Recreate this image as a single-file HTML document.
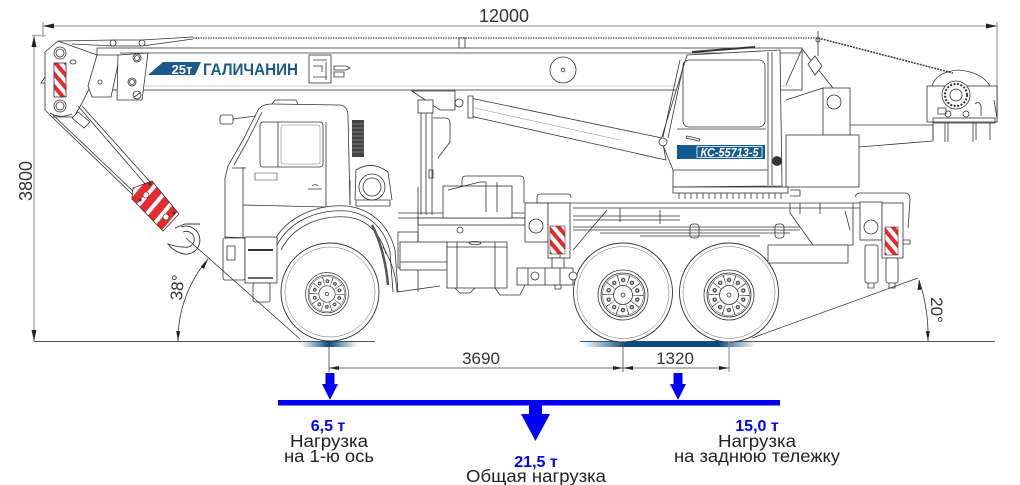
<!DOCTYPE html>
<html><head><meta charset="utf-8"><style>
html,body{margin:0;padding:0;background:#fff;width:1020px;height:485px;overflow:hidden}
svg{display:block}
</style></head><body>
<svg width="1020" height="485" viewBox="0 0 1020 485" xmlns="http://www.w3.org/2000/svg" font-family="'Liberation Sans', 'DejaVu Sans', sans-serif">
<defs>
<pattern id="st" patternUnits="userSpaceOnUse" width="8" height="8" patternTransform="rotate(-40)">
<rect width="8" height="8" fill="#fff"/><rect width="4" height="8" fill="#e52a30"/></pattern>
<pattern id="st2" patternUnits="userSpaceOnUse" width="12" height="12" patternTransform="rotate(40)">
<rect width="12" height="12" fill="#fff"/><rect width="8" height="12" fill="#e52a30"/></pattern>
<linearGradient id="gf" x1="0" x2="1" y1="0" y2="0">
<stop offset="0" stop-color="#1f5f8f" stop-opacity="0"/>
<stop offset="0.5" stop-color="#0d4a7a"/>
<stop offset="1" stop-color="#1f5f8f" stop-opacity="0"/></linearGradient>
<linearGradient id="gr" x1="0" x2="1" y1="0" y2="0">
<stop offset="0" stop-color="#1f5f8f" stop-opacity="0"/>
<stop offset="0.25" stop-color="#0d4a7a"/>
<stop offset="0.78" stop-color="#0d4a7a"/>
<stop offset="1" stop-color="#1f5f8f" stop-opacity="0"/></linearGradient>
<g id="rim" fill="none" stroke="#333" stroke-width="0.8">
<circle r="25" fill="#fff"/><circle r="22"/><circle r="20.5" stroke-width="0.5"/>
<circle r="15" stroke="#444" stroke-width="11" stroke-dasharray="0.7 8.72"/>
<circle r="9.5" fill="#fff"/>
<circle r="15" stroke="#555" stroke-width="4.5" stroke-dasharray="0 9.42" stroke-linecap="round" transform="rotate(18)"/>
<circle r="15" stroke="#fff" stroke-width="1.6" stroke-dasharray="0 9.42" stroke-linecap="round" transform="rotate(18)"/>
<circle r="2"/>
</g>
</defs>

<!-- ===== overall dimensions ===== -->
<g stroke="#b3b3b3" stroke-width="1.6" fill="none">
<line x1="43" y1="26" x2="997" y2="26"/>
<line x1="43" y1="22" x2="43" y2="37"/>
<line x1="997" y1="22" x2="997" y2="118"/>
<line x1="34" y1="36" x2="34" y2="341"/>
<line x1="32" y1="35.5" x2="46" y2="35.5"/>
</g>
<g fill="#222">
<polygon points="43,26 54,23.5 54,28.5"/>
<polygon points="997,26 986,23.5 986,28.5"/>
<polygon points="34,36 31.5,47 36.5,47"/>
<polygon points="34,341 31.5,330 36.5,330"/>
</g>
<text x="504" y="22" font-size="18" fill="#333" text-anchor="middle">12000</text>
<text transform="translate(32,181) rotate(-90)" font-size="18" fill="#333" text-anchor="middle">3800</text>

<!-- ground -->
<g stroke="#555" stroke-width="0.9">
<line x1="34" y1="341.5" x2="375" y2="341.5"/>
<line x1="580" y1="341.5" x2="995" y2="341.5"/>
</g>
<rect x="300" y="341" width="58" height="6" fill="url(#gf)"/>
<rect x="582" y="341" width="175" height="6" fill="url(#gr)"/>

<!-- ===== BOOM ===== -->
<g stroke="#333" stroke-width="0.8" fill="none">
<line x1="193" y1="38" x2="818" y2="38" stroke="#666" stroke-width="1.4" stroke-dasharray="1.5 1"/>
<line x1="818" y1="38" x2="953" y2="73" stroke="#444" stroke-width="1.6" stroke-dasharray="2 1"/>
<path d="M58,41 L113,40 L142,40 L193,37"/>
<path d="M72,44 L113,46 L142,46 L193,39"/>
<rect x="97" y="48" width="705" height="42" fill="#fff"/>
<line x1="120" y1="53" x2="800" y2="53"/>
<line x1="120" y1="86" x2="790" y2="86" stroke="#999" stroke-width="0.5"/>
<circle cx="113" cy="43" r="3" fill="#fff"/><circle cx="142" cy="43" r="3" fill="#fff"/>
<rect x="459" y="38" width="6" height="10" fill="#fff"/>
<!-- head -->
<path d="M45,52 L58,41 L97,55 L90,87 L82,103 L74,117 L52,117 L45,110 Z" fill="#fff"/>
<rect x="54" y="63" width="12" height="34" fill="url(#st)" stroke="#333"/>
<circle cx="60" cy="53" r="6" fill="#fff"/><circle cx="60" cy="53" r="4"/>
<circle cx="60" cy="106" r="6" fill="#fff"/><circle cx="60" cy="106" r="4"/>
<path d="M45,77 L41,83 L45,83"/>
<path d="M50,113 Q60,119 72,114"/>
<ellipse cx="73" cy="62" rx="3" ry="2"/>
<!-- plates -->
<path d="M97,55 L120,55 L111,97 L92,97 L88,86 Z" fill="#fff"/>
<path d="M118,55 L148,53 L142,100 L117,100 Z" fill="#fff"/>
<circle cx="100" cy="82" r="2"/>
<circle cx="137" cy="58" r="4"/><circle cx="137" cy="58" r="2.5"/>
<circle cx="132" cy="82" r="4"/><circle cx="132" cy="82" r="2.5"/>
<circle cx="137" cy="95" r="4"/><line x1="134" y1="97" x2="140" y2="93"/>
<!-- panel -->
<rect x="309" y="55" width="22" height="28" fill="#fff"/>
<path d="M313,60 H327 M313,66 H322 V72 M326,62 V80 M313,77 H327"/>
<path d="M334,66 H346 L350,68 L346,70 H334 Z M334,72 H344 V77 H334 Z"/>
<circle cx="563" cy="70" r="13"/><circle cx="563" cy="70" r="1.8"/>
</g>
<!-- logo -->
<polygon points="163,62 201,62 195,75 148,75" fill="#1a5a8c"/>
<text x="182" y="74" font-size="13" font-weight="bold" fill="#fff" text-anchor="middle">25т</text>
<text x="203" y="75" font-size="17" font-weight="bold" fill="#1a5a8c" textLength="95" lengthAdjust="spacingAndGlyphs">ГАЛИЧАНИН</text>

<!-- cables and hook -->
<g stroke="#333" stroke-width="0.8" fill="none">
<path d="M50,115 L133,195 M53,115 L135,193"/>
<path d="M78,106 L147,186 M82,106 L152,184"/>
<path d="M72,118 L78,112 L90,122 L84,128 Z" fill="#fff"/>
</g>
<polygon points="132,199 133,188 152,181 179,214 163,231" fill="url(#st2)" stroke="#333" stroke-width="0.8"/>
<g fill="#fff" stroke="#333" stroke-width="0.6">
<circle cx="146" cy="195" r="3"/><circle cx="166" cy="217" r="3"/>
<circle cx="150" cy="184" r="1.2" fill="#333"/><circle cx="174" cy="213" r="1.2" fill="#333"/><circle cx="140" cy="200" r="1.2" fill="#333"/>
</g>
<g stroke="#333" stroke-width="0.9" fill="none">
<path d="M181,227 A14,14 0 1 1 184,254 Q174,252 168,244 Q177,247 184,247 A8,8 0 1 0 183,232"/>
<path d="M175,228 L185,224 L200,224"/>
</g>

<!-- ===== under-boom: column & cylinder ===== -->
<g stroke="#333" stroke-width="0.8" fill="none">
<path d="M412,91 L455,91 L455,110 L440,110 Z" fill="#fff"/>
<rect x="418" y="100" width="15" height="13" fill="#fff"/>
<circle cx="459" cy="103" r="4" fill="#fff"/>
<path d="M421,113 V215 M426,113 V215 M432,113 V215"/>
<path d="M433,118 H446 Q450,118 450,124 V142 L438,158"/>
<rect x="429" y="170" width="4" height="8"/>
<polygon points="470,98 662,138 666,160 470,116" fill="#fff"/>
<line x1="470" y1="107" x2="620" y2="140" stroke="#888" stroke-width="0.5"/>
<path d="M468,96 L473,96 L473,118 L468,118 Z" fill="#fff"/>
</g>

<!-- ===== operator cab ===== -->
<g stroke="#333" stroke-width="0.8" fill="none">
<path d="M687,55 L780,50 L782,186 L673,187 L673,170 L661,140 Z" fill="#fff"/>
<path d="M680,60 L663,137 M684,62 L668,138"/>
<rect x="683" y="60" width="82" height="67" rx="6"/>
<line x1="677" y1="129" x2="766" y2="129"/>
<line x1="768" y1="52" x2="768" y2="185"/>
<line x1="772" y1="52" x2="772" y2="185"/>
<line x1="692" y1="52" x2="755" y2="47" stroke-width="2"/>
<line x1="673" y1="170" x2="768" y2="170"/>
<path d="M687,136 L700,139 L699,141 L686,138 Z"/>
<circle cx="663" cy="142" r="4" fill="#fff"/>
<circle cx="777" cy="161" r="4.5" fill="#333"/>
<rect x="673" y="187" width="115" height="6" fill="#fff"/>
<path d="M679,193v6M685,193v6M691,193v6M697,193v6M703,193v6M709,193v6M715,193v6M721,193v6M727,193v6M733,193v6M739,193v6M745,193v6M751,193v6M757,193v6M763,193v6M769,193v6M775,193v6M781,193v6"/>
</g>
<rect x="677" y="145" width="88" height="14" fill="#125b8e"/>
<rect x="697" y="146.5" width="65" height="11" fill="none" stroke="#fff" stroke-width="0.8"/>
<text x="729.5" y="156.5" font-size="12" font-weight="bold" font-style="italic" fill="#fff" text-anchor="middle" textLength="58" lengthAdjust="spacingAndGlyphs">КС-55713-5</text>

<!-- ===== turret / rear structure ===== -->
<g stroke="#333" stroke-width="0.8" fill="none">
<path d="M786,85 L802,49 L833,88"/>
<path d="M786,100 L823,88"/>
<rect x="823" y="88" width="27" height="47" fill="#fff"/>
<circle cx="834" cy="102" r="7"/>
<rect x="786" y="135" width="73" height="52" fill="#fff"/>
<path d="M850,125 H933 M859,147 L933,141 M933,125 V141"/>
<path d="M808,64 L815,56 L822,66 L815,75 Z" fill="#fff"/>
<line x1="818" y1="31" x2="818" y2="56"/>
<circle cx="818" cy="40" r="2"/>
<path d="M790,190 H800 V196 H790"/>
<!-- winch -->
<path d="M932,86 Q936,72 958,70 Q982,72 990,86"/>
<rect x="927" y="86" width="70" height="36" fill="#fff"/>
<circle cx="956" cy="95" r="14" fill="#fff"/>
<circle cx="956" cy="95" r="11" stroke-dasharray="2 1.5" stroke-width="2"/>
<circle cx="956" cy="95" r="6"/>
<rect x="933" y="118" width="62" height="5"/>
<path d="M933,123 V140 M945,123 V142 M948,123 V142 M973,123 V142 M976,123 V140 M990,123 V140"/>
<circle cx="948" cy="114" r="3"/><circle cx="966" cy="114" r="3"/>
<path d="M938,108 h8 v6 h-8 Z M975,104 q4,-4 6,2 v10"/>
<line x1="994" y1="100" x2="997" y2="118"/>
</g>

<!-- ===== KAMAZ cab ===== -->
<g stroke="#333" stroke-width="0.8" fill="none">
<rect x="220" y="115" width="13" height="9" rx="2" fill="#fff"/>
<path d="M233,119 L256,116"/>
<path d="M258,110 Q262,104 272,104 L340,105 Q348,106 348,116 L350,205"/>
<path d="M272,104 L275,100 L296,100 L298,104"/>
<path d="M258,110 L244,138 L228,166 L225,178 L225,238"/>
<path d="M262,112 L248,140 L234,165"/>
<path d="M243,167 V237"/>
<path d="M232,168 L246,168"/>
<rect x="260" y="122" width="63" height="45" rx="3"/>
<line x1="278" y1="122" x2="278" y2="167"/>
<rect x="281" y="125" width="39" height="39" rx="2" stroke="#777" stroke-width="0.5"/>
<path d="M326,122 V207 M243,205 L326,207"/>
<path d="M255,173 H277 V180 H255 Z" stroke-width="0.6"/>
<path d="M308,189 H322 M312,186 A4,4 0 0 1 318,186"/>
<path d="M225,237 L278,239"/>
<path d="M272,245 C285,216 318,204 347,206 C372,209 389,226 395,250 L398,292"/>
<path d="M276,247 C289,220 319,209 347,211 C370,214 385,229 390,252 L393,292"/>
<path d="M281,250 C293,226 320,215 347,217 C366,219 380,232 386,254"/>
<path d="M350,180 V205 M356,200 H390 V206 H356 Z"/>
<rect x="223" y="238" width="22" height="42" rx="2" fill="#fff"/>
<rect x="227" y="246" width="8" height="14"/>
<rect x="245" y="237" width="32" height="46" fill="#fff"/>
<line x1="248" y1="250" x2="273" y2="250" stroke-width="2"/>
<line x1="248" y1="278" x2="273" y2="278" stroke-width="1.5"/>
<rect x="253" y="283" width="17" height="19" rx="2" fill="#fff"/>
<!-- filter -->
<path d="M355,200 L356,170 Q372,160 388,172 L392,200"/>
<circle cx="372" cy="187" r="13" fill="#fff"/>
<circle cx="372" cy="187" r="9"/>
</g>
<rect x="352" y="120" width="12" height="37" fill="#444"/>
<g stroke="#aaa" stroke-width="0.6">
<path d="M352,124H364M352,128H364M352,132H364M352,136H364M352,140H364M352,144H364M352,148H364M352,152H364"/>
</g>

<!-- ===== wheels ===== -->
<g stroke="#333" stroke-width="0.9" fill="#fff">
<circle cx="330" cy="292" r="49"/>
<circle cx="623" cy="292.5" r="49.5"/>
<circle cx="729" cy="292.5" r="49.5"/>
</g>
<g stroke="#666" stroke-width="0.5" fill="none">
<circle cx="330" cy="292" r="45"/>
<circle cx="623" cy="292.5" r="46"/>
<circle cx="729" cy="292.5" r="46"/>
</g>
<use href="#rim" transform="translate(327,294) scale(0.86)"/>
<use href="#rim" transform="translate(623,295)"/>
<use href="#rim" transform="translate(729,295)"/>

<!-- ===== chassis middle ===== -->
<g stroke="#333" stroke-width="0.8" fill="none">
<path d="M383,247 C392,262 396,275 397,292 L440,286"/>
<rect x="398" y="232" width="20" height="36" fill="#fff"/>
<path d="M372,225 C380,240 386,262 388,285" stroke-width="2.5" stroke="#555"/>
<path d="M398,213 H525 M398,218 H525"/>
<rect x="418" y="218" width="107" height="7" fill="#fff"/>
<line x1="418" y1="187" x2="418" y2="292"/>
<rect x="443" y="186" width="69" height="32" fill="#fff"/>
<path d="M462,186 V180 Q462,176 466,176 H520 Q524,176 524,180 V203"/>
<path d="M448,190 L480,182 H486 V212 M497,182 V212"/>
<rect x="400" y="242" width="47" height="28" fill="#fff"/>
<rect x="447" y="242" width="60" height="46" fill="#fff"/>
<line x1="457" y1="242" x2="457" y2="288"/>
<line x1="495" y1="242" x2="495" y2="288"/>
<ellipse cx="475" cy="243" rx="6" ry="1.5"/>
<circle cx="460" cy="230" r="3"/>
<path d="M447,247 H507 M400,262 H447"/>
<path d="M455,288 L460,293 H470 L475,288 M495,288 L500,295 H520 L525,285"/>
<!-- rear deck -->
<path d="M525,203 H860 M573,208 H860"/>
<path d="M537,203 V197 Q537,194 541,194 H568 Q571,194 571,198"/>
<rect x="525" y="203" width="23" height="39" fill="#fff"/>
<circle cx="536" cy="226" r="7"/>
<rect x="548" y="203" width="22" height="55" fill="#fff"/>
<rect x="552" y="258" width="12" height="26" fill="#fff"/>
<path d="M555,284 v5 h6 v-5"/>
<rect x="517" y="268" width="56" height="17" fill="#fff"/>
<path d="M528,268 V285 M545,268 V285 M560,268 V285"/>
<circle cx="535" cy="276" r="4"/><circle cx="573" cy="276" r="4" fill="#fff"/>
<path d="M573,216 H680 M573,220 H680 M573,227 H800 M573,230 H800 M600,233 H790 M640,236 H760"/>
<path d="M607,210 L573,250 M620,208 V222 M660,210 V224"/>
<rect x="690" y="224" width="9" height="14" rx="3"/>
<rect x="775" y="224" width="9" height="14" rx="3"/>
<path d="M790,203 V213 L813,245 H853 V203"/>
<rect x="768" y="245" width="80" height="18" fill="#fff"/>
<path d="M855,197 Q856,193 860,193 H905 Q910,193 910,200 L908,228"/>
<rect x="860" y="202" width="22" height="38" fill="#fff"/>
<circle cx="871" cy="227" r="7"/>
<rect x="882" y="203" width="21" height="55" fill="#fff"/>
<rect x="865" y="245" width="13" height="38" rx="2" fill="#fff"/>
<rect x="886" y="258" width="12" height="25" rx="2" fill="#fff"/>
<path d="M868,283 v5 h6 v-5 M889,283 v5 h6 v-5"/>
<path d="M903,240 H910 V244 H903"/>
<path d="M800,203 V214 M820,203 V214 M845,211 L850,230 M560,240 V258"/>
</g>
<rect x="550" y="226" width="15" height="28" fill="url(#st)" stroke="#333" stroke-width="0.6"/>
<rect x="885" y="227" width="13" height="28" fill="url(#st)" stroke="#333" stroke-width="0.6"/>

<!-- ===== angle annotations ===== -->
<g stroke="#333" stroke-width="0.8" fill="none">
<line x1="186" y1="238" x2="300" y2="339"/>
<path d="M178,341 A125,125 0 0 1 208,259"/>
<line x1="752" y1="338" x2="918" y2="278"/>
<path d="M928,341 A176,176 0 0 0 919,280"/>
</g>
<g fill="#222">
<polygon points="178,341 176.2,331 180.2,331.3"/>
<polygon points="208,259 200.6,266.8 204,268.8"/>
<polygon points="928,341 925.8,331.2 929.8,331"/>
<polygon points="919,280 917.5,290 921.5,289.5"/>
</g>
<text transform="translate(183,288) rotate(-85)" font-size="17" fill="#333" text-anchor="middle">38°</text>
<text transform="translate(931,310) rotate(90)" font-size="17" fill="#333" text-anchor="middle">20°</text>

<!-- ===== axle dimensions ===== -->
<g stroke="#444" stroke-width="0.8">
<line x1="329" y1="341" x2="329" y2="372"/>
<line x1="623" y1="341" x2="623" y2="372"/>
<line x1="729" y1="341" x2="729" y2="372" stroke="#999" stroke-width="1.2"/>
<line x1="329" y1="368" x2="729" y2="368"/>
</g>
<g fill="#222">
<polygon points="329,368 339,366 339,370"/>
<polygon points="623,368 613,366 613,370"/>
<polygon points="623,368 633,366 633,370"/>
<polygon points="729,368 719,366 719,370"/>
</g>
<text x="481" y="364" font-size="17" fill="#333" text-anchor="middle">3690</text>
<text x="675" y="364" font-size="17" fill="#333" text-anchor="middle">1320</text>

<!-- ===== load diagram ===== -->
<g fill="#0000f5">
<rect x="278" y="400" width="502" height="5.5"/>
<polygon points="325.5,373 334.5,373 334.5,384 338,384 330,400 322,384 325.5,384"/>
<polygon points="673.5,373 682.5,373 682.5,384 686,384 678,400 670,384 673.5,384"/>
<polygon points="529,405 542,405 542,414 550,414 535.5,441 521,414 529,414"/>
</g>
<g text-anchor="middle">
<text x="328" y="431" font-size="16" font-weight="bold" fill="#0000f5">6,5 т</text>
<text x="329" y="447" font-size="17.5" fill="#222" textLength="78" lengthAdjust="spacingAndGlyphs">Нагрузка</text>
<text x="329" y="462" font-size="17.5" fill="#222" textLength="90" lengthAdjust="spacingAndGlyphs">на 1-ю ось</text>
<text x="536" y="467" font-size="16" font-weight="bold" fill="#0000f5">21,5 т</text>
<text x="536" y="482" font-size="17.5" fill="#222" textLength="140" lengthAdjust="spacingAndGlyphs">Общая нагрузка</text>
<text x="757" y="431" font-size="16" font-weight="bold" fill="#0000f5">15,0 т</text>
<text x="757" y="447" font-size="17.5" fill="#222" textLength="78" lengthAdjust="spacingAndGlyphs">Нагрузка</text>
<text x="757" y="462" font-size="17.5" fill="#222" textLength="166" lengthAdjust="spacingAndGlyphs">на заднюю тележку</text>
</g>
</svg>
</body></html>
